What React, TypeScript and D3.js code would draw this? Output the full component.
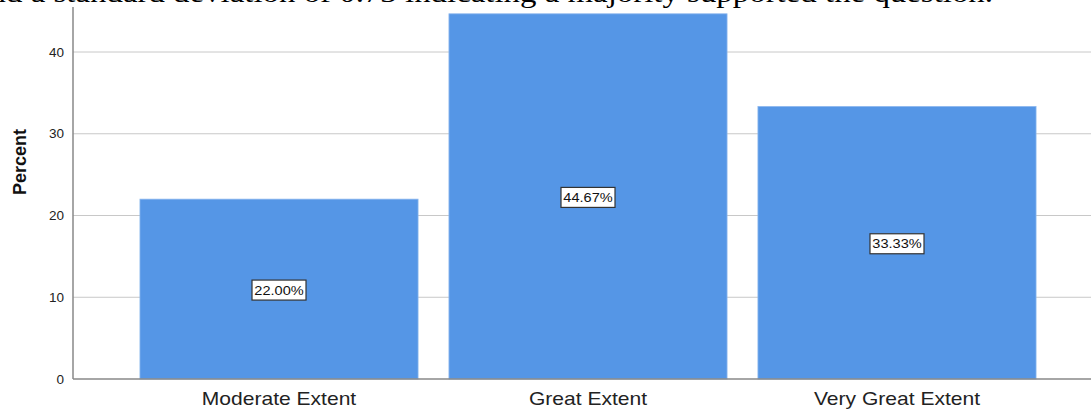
import React from "react";
import * as d3 from "d3";

const categories = ["Moderate Extent", "Great Extent", "Very Great Extent"];
const percents = [22.0, 44.67, 33.33];
const yTicks = [0, 10, 20, 30, 40];
const topLine = "and a standard deviation of 0.73 indicating a majority supported the question.";

const W = 1091;
const H = 409;
const axisX = 73;
const baseY = 379;

export default function App() {
  const x = d3
    .scaleBand<string>()
    .domain(categories)
    .range([axisX, 1103])
    .paddingInner(0.1)
    .paddingOuter(0.2167);
  const y = d3.scaleLinear().domain([0, 45.5]).range([baseY, baseY - 45.5 * 8.175]);
  const font = "Arial, 'Liberation Sans', sans-serif";

  return (
    <svg
      width={W}
      height={H}
      style={{ position: "absolute", left: 0, top: 0, background: "#fff" }}
      fontFamily={font}
    >
      <rect x={0} y={0} width={W} height={H} fill="#fff" />
      {yTicks.map((t) => (
        <g key={t}>
          {t > 0 && (
            <line x1={axisX} x2={W} y1={y(t)} y2={y(t)} stroke="#c8c8c8" strokeWidth={1} />
          )}
          <text x={64} y={y(t)} dy="0.35em" textAnchor="end" fontSize={13.5} fill="#222">
            {t}
          </text>
        </g>
      ))}
      {categories.map((c, i) => {
        const bx = x(c)!;
        const bw = x.bandwidth();
        const cx = bx + bw / 2;
        const cy = y(percents[i] / 2);
        const label = percents[i].toFixed(2) + "%";
        return (
          <g key={c}>
            <rect
              x={bx}
              y={y(percents[i])}
              width={bw}
              height={baseY - y(percents[i])}
              fill="#5596E6"
              stroke="#8ab6ee"
              strokeWidth={0.8}
            />
            <rect x={cx - 27} y={cy - 9} width={54} height={20} fill="#fff" stroke="#333" strokeWidth={1.2} />
            <g transform={`translate(${cx},${cy + 1}) scale(1.12,1)`}>
              <text dy="0.35em" textAnchor="middle" fontSize={13} fill="#111">
                {label}
              </text>
            </g>
            <g transform={`translate(${cx},405) scale(1.17,1)`}>
              <text textAnchor="middle" fontSize={18} fill="#222">
                {c}
              </text>
            </g>
          </g>
        );
      })}
      <line x1={axisX} x2={axisX} y1={y(45.5)} y2={baseY} stroke="#888" strokeWidth={1.5} />
      <line x1={axisX} x2={W} y1={baseY} y2={baseY} stroke="#888" strokeWidth={1.5} />
      <text
        transform={`translate(26,162) rotate(-90)`}
        textAnchor="middle"
        fontSize={18}
        fontWeight="bold"
        fill="#111"
      >
        Percent
      </text>
      <text
        x={-25}
        y={2}
        textLength={1018}
        lengthAdjust="spacingAndGlyphs"
        fontFamily="'Liberation Serif', 'Times New Roman', serif"
        fontSize={28}
        fill="#000"
      >
        {topLine}
      </text>
    </svg>
  );
}
